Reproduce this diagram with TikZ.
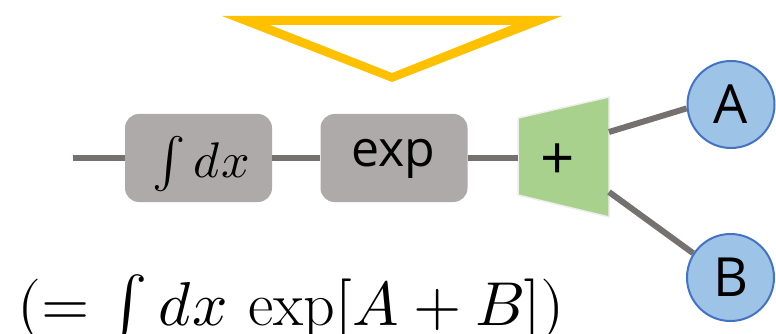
\documentclass[tikz,border=0pt]{standalone}
\usepackage{fontspec}
\usepackage{unicode-math}
\setmathfont{Latin Modern Math}
\setsansfont{Open Sans}
\definecolor{linegray}{HTML}{767171}
\definecolor{boxgray}{HTML}{AEAAAA}
\definecolor{addgreen}{HTML}{A9D18E}
\definecolor{leaffill}{HTML}{9DC3E6}
\definecolor{leafblue}{HTML}{4472C4}
\definecolor{warnyellow}{HTML}{FFC000}
\definecolor{trapedge}{HTML}{EEEEEE}
\begin{document}
\begin{tikzpicture}[x=1pt,y=-1pt,
  conn/.style={draw=linegray,line width=6pt},
  opbox/.style={fill=boxgray,rounded corners=14pt,minimum width=147pt,minimum height=88pt,inner sep=0pt},
  leaf/.style={circle,draw=leafblue,line width=2pt,fill=leaffill,minimum size=87pt,inner sep=0pt,font=\sffamily\fontsize{54}{54}\selectfont}]
\useasboundingbox (0,0) rectangle (776,334);
% yellow triangle
\fill[warnyellow,even odd rule] (222,16) -- (562,16) -- (392,82) -- cycle
  (270,25) -- (512,25) -- (392,73) -- cycle;
% boxes
\node[opbox] (int) at (198.5,158) {};
\node[anchor=base,font=\fontsize{50}{50}\selectfont] (inttxt) at (201,177) {$\int dx$};
\node[opbox] (exp) at (394,158) {};
\node[anchor=base,font=\sffamily\fontsize{50}{50}\selectfont] (exptxt) at (393,166) {exp};
% trapezoid adder
\draw[fill=addgreen,draw=trapedge,line width=1.5pt] (518,118) -- (609,97) -- (609,217) -- (518,195) -- cycle;
\coordinate (addW) at (518,158);
\coordinate (addA) at (609,132);
\coordinate (addB) at (609,192);
\node[font=\sffamily\fontsize{60}{60}\selectfont] (plus) at (558,162) {+};
% leaves
\node[leaf] (A) at (731,104.5) {A};
\node[leaf] (B) at (730.5,277.5) {B};
% connectors
\coordinate (inp) at (73,158);
\draw[conn] (inp) -- (int.west);
\draw[conn] (int.east) -- (exp.west);
\draw[conn] (exp.east) -- (addW);
\draw[conn] (addA) -- (A.185);
\draw[conn] (addB) -- (B.147);
% formula
\node[anchor=base west,inner sep=0pt,font=\fontsize{62}{62}\selectfont] (formula) at (17,325) {$(=\int dx\,\exp[A+B])$};
\end{tikzpicture}
\end{document}
